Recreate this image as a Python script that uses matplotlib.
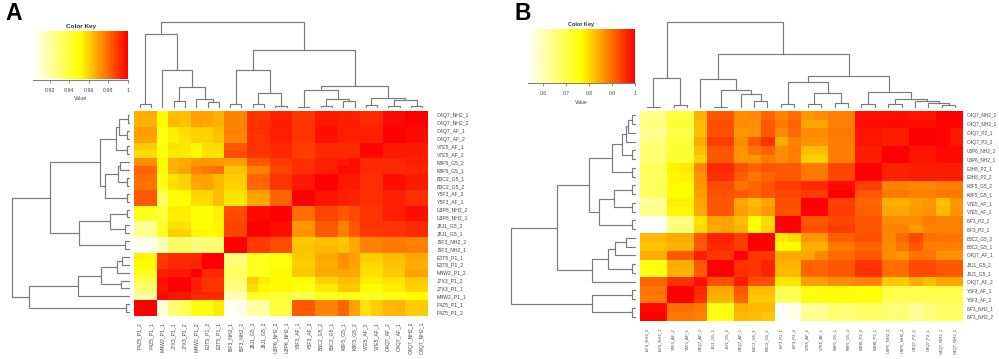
import numpy as np
import matplotlib

matplotlib.use('agg')

import matplotlib.pyplot as plt
from matplotlib.colors import LinearSegmentedColormap

plt.rcParams['font.family'] = ['Liberation Sans', 'DejaVu Sans']

fig_w = 999
fig_h = 359

cols_a = ['F4Z5_P1_2', 'F4Z5_P1_1', 'M4W2_P1_1', 'J7X3_P1_1', 'J7X3_P1_2', 'M4W2_P1_2', 'E3T5_P1_2', 'E3T5_P1_1',
          'I5F3_NH2_1', 'I5F3_NH2_2', 'J8J1_G5_1', 'J8J1_G5_2', 'U3P6_NH2_2', 'U3P6_NH2_1', 'Y5F3_AF_1', 'Y5F3_AF_2',
          'B3C2_G5_2', 'B3C2_G5_1', 'K8F5_G5_1', 'K8F5_G5_2', 'V7E5_AF_2', 'V7E5_AF_1', 'O4Q7_AF_2', 'O4Q7_AF_1',
          'O4Q7_NH2_2', 'O4Q7_NH2_1']
rows_a = ['O4Q7_NH2_1', 'O4Q7_NH2_2', 'O4Q7_AF_1', 'O4Q7_AF_2', 'V7E5_AF_1', 'V7E5_AF_2', 'K8F5_G5_2', 'K8F5_G5_1',
          'B3C2_G5_1', 'B3C2_G5_2', 'Y5F3_AF_2', 'Y5F3_AF_1', 'U3P6_NH2_2', 'U3P6_NH2_1', 'J8J1_G5_2', 'J8J1_G5_1',
          'I5F3_NH2_2', 'I5F3_NH2_1', 'E3T5_P1_1', 'E3T5_P1_2', 'M4W2_P1_2', 'J7X3_P1_2', 'J7X3_P1_1', 'M4W2_P1_1',
          'F4Z5_P1_1', 'F4Z5_P1_2']

values_a = [
    [.967, .967, .952, .964, .964, .969, .969, .966, .975, .975, .990, .990, .994, .994, .990, .990, .995, .995, .994, .994, .992, .992, .998, .998, 1, 1],
    [.966, .966, .952, .965, .963, .969, .968, .966, .975, .975, .990, .991, .994, .994, .990, .990, .995, .995, .994, .994, .992, .992, .998, .998, 1, 1],
    [.970, .970, .948, .955, .958, .960, .960, .964, .975, .975, .991, .991, .994, .994, .990, .990, .997, .997, .994, .994, .994, .994, 1, 1, .998, .998],
    [.969, .969, .948, .954, .957, .960, .960, .963, .974, .974, .990, .990, .994, .994, .990, .990, .997, .997, .994, .994, .994, .994, 1, 1, .998, .998],
    [.961, .961, .949, .957, .956, .953, .958, .958, .983, .983, .990, .990, .992, .992, .988, .988, .992, .992, .992, .992, .999, .999, .995, .995, .995, .995],
    [.958, .958, .949, .956, .955, .952, .957, .957, .985, .985, .990, .990, .992, .992, .988, .988, .992, .992, .992, .992, .999, .999, .995, .995, .995, .995],
    [.973, .973, .952, .966, .968, .971, .971, .971, .970, .970, .983, .983, .989, .989, .991, .991, .994, .994, .995, .998, .992, .992, .992, .992, .994, .994],
    [.981, .981, .952, .966, .969, .975, .977, .979, .963, .963, .975, .975, .987, .987, .991, .991, .994, .994, .998, .997, .992, .992, .992, .992, .993, .993],
    [.979, .979, .948, .957, .960, .969, .969, .965, .961, .961, .981, .981, .990, .990, .995, .995, 1, 1, .995, .995, .991, .991, .997, .997, .995, .995],
    [.978, .978, .948, .958, .960, .968, .969, .965, .960, .960, .980, .980, .990, .990, .995, .995, 1, 1, .995, .995, .991, .991, .997, .997, .995, .995],
    [.983, .983, .935, .951, .952, .959, .959, .964, .957, .957, .969, .969, .981, .981, 1, 1, .996, .996, .994, .993, .991, .991, .994, .994, .991, .991],
    [.983, .983, .933, .950, .951, .958, .958, .964, .956, .956, .968, .968, .981, .981, 1, 1, .996, .996, .994, .993, .991, .991, .994, .994, .991, .991],
    [.947, .947, .940, .955, .955, .951, .950, .954, .985, .985, .998, .998, 1, 1, .979, .979, .987, .987, .983, .986, .990, .990, .994, .994, .997, .997],
    [.946, .946, .940, .954, .954, .951, .950, .954, .986, .986, .998, .998, 1, 1, .979, .979, .987, .987, .983, .986, .990, .990, .994, .994, .997, .997],
    [.923, .923, .944, .957, .957, .951, .951, .953, .987, .987, 1, 1, .997, .997, .971, .971, .983, .983, .975, .983, .990, .990, .990, .990, .992, .992],
    [.925, .925, .946, .960, .960, .953, .952, .953, .987, .987, 1, 1, .997, .997, .972, .972, .983, .983, .976, .983, .989, .989, .990, .990, .992, .992],
    [.907, .907, .915, .932, .932, .927, .930, .930, 1, 1, .989, .989, .985, .985, .962, .962, .964, .964, .962, .968, .975, .975, .977, .977, .975, .975],
    [.906, .906, .917, .933, .933, .928, .931, .931, 1, 1, .989, .989, .985, .985, .963, .963, .965, .965, .963, .968, .975, .975, .977, .977, .976, .976],
    [.954, .952, .989, .992, .992, .992, 1, 1, .929, .929, .946, .946, .948, .950, .962, .962, .968, .968, .973, .969, .961, .961, .964, .964, .968, .968],
    [.952, .952, .990, .992, .992, .993, 1, 1, .930, .930, .947, .947, .950, .950, .961, .961, .967, .967, .972, .969, .959, .959, .963, .963, .967, .967],
    [.946, .946, .994, .995, .995, 1, .992, .992, .934, .934, .945, .945, .953, .953, .962, .962, .968, .968, .968, .968, .957, .957, .962, .962, .969, .969],
    [.936, .936, .997, 1, 1, .994, .990, .990, .930, .930, .961, .955, .953, .953, .951, .951, .960, .960, .964, .964, .955, .955, .957, .957, .962, .962],
    [.931, .931, .996, 1, 1, .994, .990, .990, .928, .928, .958, .953, .952, .952, .948, .948, .955, .955, .962, .962, .952, .952, .955, .955, .960, .960],
    [.920, .920, .998, .996, .996, .992, .992, .992, .917, .917, .945, .945, .940, .940, .937, .937, .945, .945, .948, .948, .945, .945, .948, .948, .952, .952],
    [1, 1, .910, .930, .935, .950, .950, .955, .905, .908, .920, .920, .940, .940, .983, .983, .975, .975, .981, .969, .957, .961, .965, .966, .961, .961],
    [1, 1, .910, .930, .935, .950, .950, .955, .904, .908, .921, .921, .940, .940, .983, .983, .975, .975, .981, .969, .957, .961, .965, .966, .961, .961],
]

cols_b = ['I5F3_NH2_2', 'I5F3_NH2_1', 'Y5F3_AF_2', 'Y5F3_AF_1', 'O4Q7_AF_2', 'J8J1_G5_1', 'J8J1_G5_2', 'O4Q7_AF_1',
          'B3C2_G5_1', 'B3C2_G5_2', 'I5F3_P2_1', 'I5F3_P2_2', 'V7E5_AF_2', 'V7E5_AF_1', 'K8F5_G5_1', 'K8F5_G5_2',
          'E3H8_P2_2', 'E3H8_P2_1', 'U3P6_NH2_1', 'U3P6_NH2_2', 'O4Q7_P2_2', 'O4Q7_P2_1', 'O4Q7_NH2_1', 'O4Q7_NH2_2']
rows_b = ['O4Q7_NH2_2', 'O4Q7_NH2_1', 'O4Q7_P2_1', 'O4Q7_P2_2', 'U3P6_NH2_2', 'U3P6_NH2_1', 'E3H8_P2_1', 'E3H8_P2_2',
          'K8F5_G5_2', 'K8F5_G5_1', 'V7E5_AF_1', 'V7E5_AF_2', 'I5F3_P2_2', 'I5F3_P2_1', 'B3C2_G5_2', 'B3C2_G5_1',
          'O4Q7_AF_1', 'J8J1_G5_2', 'J8J1_G5_1', 'O4Q7_AF_2', 'Y5F3_AF_1', 'Y5F3_AF_2', 'I5F3_NH2_1', 'I5F3_NH2_2']

values_b = [
    [.647, .647, .712, .712, .835, .92, .92, .872, .875, .908, .88, .90, .863, .872, .885, .885, .986, .986, .986, .986, .98, .98, 1, 1],
    [.650, .650, .715, .715, .826, .93, .93, .872, .87, .918, .89, .91, .848, .848, .885, .885, .986, .986, .99, .99, .986, .986, .995, .995],
    [.63, .63, .70, .70, .826, .925, .925, .863, .866, .918, .875, .903, .872, .872, .89, .89, .98, .98, .973, .973, 1, 1, .995, .977],
    [.655, .655, .712, .712, .844, .945, .945, .872, .918, .954, .844, .88, .866, .866, .885, .885, .98, .98, .973, .973, 1, 1, .995, .977],
    [.665, .665, .72, .72, .826, .92, .92, .863, .894, .908, .872, .885, .826, .826, .885, .885, .973, .973, 1, 1, .98, .98, .99, .99],
    [.665, .665, .72, .72, .807, .92, .92, .863, .863, .885, .872, .885, .812, .812, .885, .885, .973, .973, 1, 1, .98, .98, .99, .99],
    [.685, .685, .776, .785, .875, .96, .96, .927, .908, .922, .918, .918, .89, .89, .935, .935, 1, 1, .968, .968, .973, .973, .973, .973],
    [.68, .68, .772, .78, .866, .955, .955, .913, .89, .908, .918, .918, .89, .89, .935, .935, 1, 1, .968, .968, .973, .973, .973, .973],
    [.685, .685, .77, .77, .863, .93, .93, .895, .908, .922, .945, .945, .96, .96, .99, .99, .94, .94, .88, .88, .875, .875, .885, .885],
    [.68, .68, .77, .77, .855, .925, .925, .918, .908, .92, .935, .935, .945, .945, 1, 1, .918, .918, .89, .89, .88, .88, .89, .89],
    [.63, .63, .78, .78, .848, .92, .92, .848, .826, .848, .927, .927, 1, 1, .94, .94, .908, .908, .84, .84, .853, .863, .826, .863],
    [.645, .645, .772, .772, .844, .92, .92, .855, .84, .86, .925, .925, 1, 1, .945, .945, .91, .91, .845, .845, .86, .865, .83, .865],
    [.538, .538, .647, .647, .793, .85, .85, .826, .766, .798, 1, 1, .92, .92, .935, .935, .92, .92, .872, .872, .872, .89, .885, .885],
    [.533, .533, .655, .655, .80, .84, .853, .835, .768, .803, 1, 1, .927, .927, .945, .945, .92, .92, .88, .88, .858, .88, .885, .885],
    [.83, .83, .845, .845, .92, .968, .968, .945, 1, 1, .785, .80, .863, .863, .913, .913, .927, .927, .875, .903, .932, .898, .893, .893],
    [.82, .82, .835, .835, .918, .96, .96, .945, 1, 1, .77, .77, .84, .84, .89, .89, .908, .908, .872, .893, .918, .885, .885, .885],
    [.84, .84, .918, .918, .973, .95, .95, 1, .95, .95, .844, .844, .848, .875, .903, .903, .92, .92, .872, .863, .893, .893, .866, .866],
    [.75, .75, .84, .84, .918, 1, 1, .953, .95, .968, .835, .835, .908, .908, .92, .92, .95, .95, .898, .898, .932, .932, .918, .918],
    [.75, .75, .835, .835, .915, 1, 1, .955, .95, .968, .83, .83, .908, .908, .92, .92, .955, .955, .898, .898, .932, .932, .92, .92],
    [.908, .908, .954, .954, .986, .927, .927, .973, .927, .927, .789, .789, .853, .853, .872, .872, .88, .88, .817, .817, .844, .826, .848, .848],
    [.893, .893, 1, 1, .963, .844, .844, .918, .826, .826, .695, .695, .755, .76, .766, .766, .762, .762, .70, .70, .70, .70, .70, .70],
    [.89, .89, 1, 1, .954, .835, .835, .908, .817, .817, .685, .685, .75, .75, .76, .76, .755, .755, .695, .695, .69, .69, .69, .69],
    [.99, .99, .898, .898, .89, .75, .75, .84, .83, .83, .533, .55, .62, .62, .665, .65, .675, .675, .655, .655, .62, .655, .675, .675],
    [1, 1, .89, .89, .885, .755, .755, .83, .826, .817, .533, .55, .64, .64, .67, .66, .68, .68, .665, .665, .64, .66, .68, .68],
]

# dendrograms are nested merges: (height, left, right), an int is a leaf
top_tree_a = (86,
    (74, (4, 0, 1), (38, 2, (21, (7, 3, 4), (9, 5, (6, 6, 7))))),
    (58, (38, (4, 8, 9), (15, (4, 10, 11), (2, 12, 13))),
         (22, (18, (1.5, 14, 15), (9, (2, 16, 17), (7, 18, 19))),
              (10.5, (3, 20, 21), (8, (2.5, 22, 23), (2, 24, 25))))))
side_tree_a = (118,
    (80, (30, (14, (11, (2.3, 0, 1), (3, 2, 3)), (3.3, 4, 5)),
              (25, (12, (10, 6, 7), (3.3, 8, 9)), (2.7, 10, 11))),
         (51, (20, (2.7, 12, 13), (5, 14, 15)), (5, 16, 17))),
    (101, (52, (29, (13, (8, 18, 19), 20), (9, 21, 22)), 23), (4.3, 24, 25)))
top_tree_b = (86,
    (30, (1, 0, 1), (3, 2, 3)),
    (54, (29, 4, (18, (1, 5, 6), (14, 7, (7, 8, 9)))),
         (32, (26, (4, 10, 11), (15, (3.7, 12, 13), (5, 14, 15))),
              (16.5, (4, 16, 17), (9, (3.7, 18, 19), (7.5, 20, (5.5, 21, (2.7, 22, 23))))))))
side_tree_b = (125,
    (79, (47, (24.3, (13.7, (10.3, (7.7, (4.5, 0, 1), 2), 3), (4.5, 4, 5)), (4.5, 6, 7)),
              (37.3, (22, (4.5, 8, 9), (4.5, 10, 11)), (4.5, 12, 13))),
         (44, (27.7, (21.3, (10.5, 14, 15), 16), (4, 17, 18)), 19)),
    (44.3, (4, 20, 21), (4, 22, 23)))

key_ticks_a = [0.92, 0.94, 0.96, 0.98, 1]
key_ticklabels_a = ['0.92', '0.94', '0.96', '0.98', '1']
key_ticks_b = [0.6, 0.7, 0.8, 0.9, 1]
key_ticklabels_b = ['0.6', '0.7', '0.8', '0.9', '1']
key_min_a = 0.903
key_min_b = 0.533

heat = LinearSegmentedColormap.from_list('heat_key', ['#ffffff', '#ffff00', '#ff0000'], N=256)
line_grey = '#7a7a7a'
text_grey = '#444444'


def axes_px(figure, left, top, right, bottom):
    return figure.add_axes([left / fig_w, 1 - bottom / fig_h, (right - left) / fig_w, (bottom - top) / fig_h])


def walk_tree(node, segments):
    # gives back leaf position and height of this node, collects the lines
    if isinstance(node, int):
        return node, 0
    pos_l, h_l = walk_tree(node[1], segments)
    pos_r, h_r = walk_tree(node[2], segments)
    segments.append(([pos_l, pos_l, pos_r, pos_r], [h_l, node[0], node[0], h_r]))
    return (pos_l + pos_r) / 2, node[0]


def draw_panel(figure, box, key_box, values, rows, cols, top_tree, side_tree, key_min, key_ticks, key_ticklabels,
               row_pad, col_pad, row_size, col_size, key_size, top_base, side_base, title_size):
    left, top, right, bottom = box
    matrix = np.array(values)

    ax_heat = axes_px(figure, left, top, right, bottom)
    ax_heat.imshow(matrix, cmap=heat, vmin=key_min, vmax=1, aspect='auto', interpolation='nearest')
    ax_heat.set_xticks(range(len(cols)))
    ax_heat.set_xticklabels(cols, rotation=90, fontsize=col_size, color=text_grey)
    ax_heat.yaxis.tick_right()
    ax_heat.set_yticks(range(len(rows)))
    ax_heat.set_yticklabels(rows, fontsize=row_size, color=text_grey)
    ax_heat.tick_params(axis='x', length=0, pad=col_pad)
    ax_heat.tick_params(axis='y', length=0, pad=row_pad)
    for spine in ax_heat.spines.values():
        spine.set_visible(False)

    ax_top = axes_px(figure, left, 0, right, top_base)
    segments = []
    walk_tree(top_tree, segments)
    for xs, ys in segments:
        ax_top.plot(xs, ys, color=line_grey, lw=0.85, solid_joinstyle='miter', solid_capstyle='projecting')
    ax_top.set_xlim(-0.5, len(cols) - 0.5)
    ax_top.set_ylim(0, top_base)
    ax_top.axis('off')

    ax_side = axes_px(figure, 0, top, side_base, bottom)
    segments = []
    walk_tree(side_tree, segments)
    for xs, ys in segments:
        ax_side.plot(ys, xs, color=line_grey, lw=0.85, solid_joinstyle='miter', solid_capstyle='projecting')
    ax_side.set_xlim(side_base, 0)
    ax_side.set_ylim(len(rows) - 0.5, -0.5)
    ax_side.axis('off')

    ax_key = axes_px(figure, *key_box)
    ramp = np.linspace(key_min, 1, 256).reshape(1, -1)
    ax_key.imshow(ramp, cmap=heat, vmin=key_min, vmax=1, aspect='auto', extent=[key_min, 1, 0, 1])
    ax_key.set_xlim(key_min, 1)
    ax_key.set_yticks([])
    ax_key.set_xticks(key_ticks)
    ax_key.set_xticklabels(key_ticklabels, fontsize=key_size, color=text_grey)
    ax_key.tick_params(axis='x', length=2, width=0.6, color=line_grey, pad=4)
    ax_key.set_xlabel('Value', fontsize=key_size, color=text_grey, labelpad=2.5)
    ax_key.set_title('Color Key', fontsize=title_size, fontweight='bold', color='#333333', pad=2.2)
    for name in ['top', 'left', 'right']:
        ax_key.spines[name].set_visible(False)
    ax_key.spines['bottom'].set_color(line_grey)
    ax_key.spines['bottom'].set_linewidth(0.7)


fig = plt.figure(figsize=(fig_w / 100, fig_h / 100), dpi=100)

draw_panel(fig, (134, 111, 428, 316), (33, 31, 128, 79.5), values_a, rows_a, cols_a, top_tree_a, side_tree_a,
           key_min_a, key_ticks_a, key_ticklabels_a, 6.5, 4.3, 3.7, 3.7, 3.8, 108, 130, 4.6)
draw_panel(fig, (640, 111, 962, 321), (528, 29, 635, 83), values_b, rows_b, cols_b, top_tree_b, side_tree_b,
           key_min_b, key_ticks_b, key_ticklabels_b, 3.6, 5, 3.4, 2.95, 3.6, 108, 636, 4)

fig.text(5 / fig_w, 1 - 20.5 / fig_h, 'A', fontsize=16.5, fontweight='bold', color='black')
fig.text(514 / fig_w, 1 - 20.5 / fig_h, 'B', fontsize=16.5, fontweight='bold', color='black')

fig.savefig('out.png', dpi=100)
